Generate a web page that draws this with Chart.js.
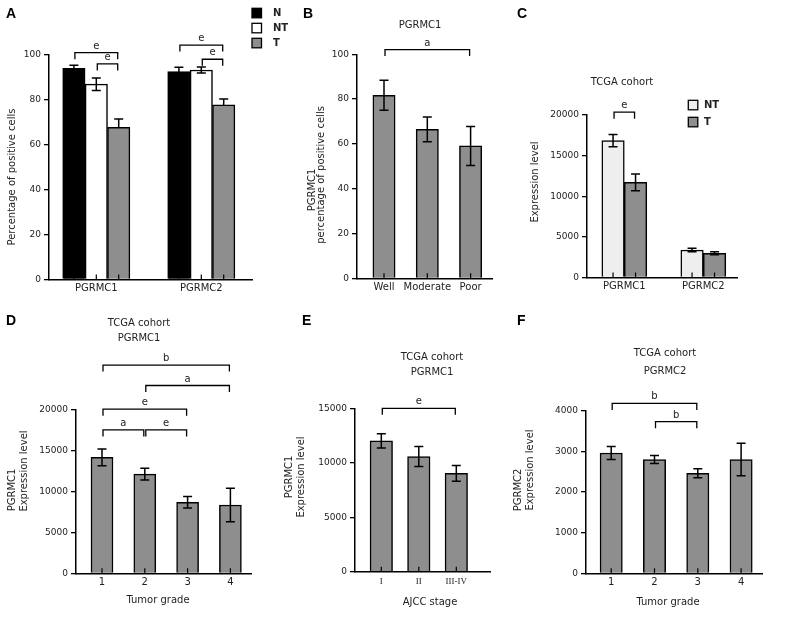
<!DOCTYPE html>
<html><head><meta charset="utf-8">
<script src="https://cdn.jsdelivr.net/npm/chart.js@4/dist/chart.umd.min.js"></script>
<style>
html,body{margin:0;padding:0;background:#fff;}
#wrap{position:relative;width:789px;height:617px;overflow:hidden;background:#fff;}
#wrap canvas{position:absolute;left:0;top:0;}
</style></head><body><div id="wrap">
<canvas id="cA" width="789" height="617"></canvas>
<canvas id="cB" width="789" height="617"></canvas>
<canvas id="cC" width="789" height="617"></canvas>
<canvas id="cD" width="789" height="617"></canvas>
<canvas id="cE" width="789" height="617"></canvas>
<canvas id="cF" width="789" height="617"></canvas>
</div>
<script>
// ---------- DATA ----------
// Panel A
const catsA = ['PGRMC1', 'PGRMC2'];
const seriesA = ['N', 'NT', 'T'];
const meanA_N = [93.9, 92.4];
const semA_N = [1.3, 1.9];
const meanA_NT = [86.8, 93.1];
const semA_NT = [2.8, 1.3];
const meanA_T = [67.6, 77.6];
const semA_T = [3.7, 2.6];
const yTicksA = [0, 20, 40, 60, 80, 100];
const sigA = [
  { from: [0, 0], to: [0, 2], level: 100.8, label: 'e' },
  { from: [0, 1], to: [0, 2], level: 95.8, label: 'e' },
  { from: [1, 0], to: [1, 2], level: 104.2, label: 'e' },
  { from: [1, 1], to: [1, 2], level: 97.9, label: 'e' }
];
// Panel B
const catsB = ['Well', 'Moderate', 'Poor'];
const meanB = [81.7, 66.5, 59.1];
const semB = [6.7, 5.5, 8.7];
const yTicksB = [0, 20, 40, 60, 80, 100];
const sigB = [{ from: [0, 0], to: [2, 0], level: 102.1, label: 'a' }];
// Panel C
const catsC = ['PGRMC1', 'PGRMC2'];
const seriesC = ['NT', 'T'];
const meanC_NT = [16850, 3390];
const semC_NT = [750, 220];
const meanC_T = [11720, 2980];
const semC_T = [1030, 190];
const yTicksC = [0, 5000, 10000, 15000, 20000];
const sigC = [{ from: [0, 0], to: [0, 1], level: 20350, label: 'e' }];
// Panel D
const catsD = ['1', '2', '3', '4'];
const meanD = [14200, 12150, 8700, 8370];
const semD = [1020, 720, 700, 2050];
const yTicksD = [0, 5000, 10000, 15000, 20000];
const sigD = [
  { from: [0, 0], to: [3, 0], level: 25500, label: 'b' },
  { from: [1, 0], to: [3, 0], level: 23000, label: 'a' },
  { from: [0, 0], to: [2, 0], level: 20100, label: 'e' },
  { from: [0, 0], to: [1, 0], level: 17560, label: 'a' },
  { from: [1, 0], to: [2, 0], level: 17560, label: 'e' }
];
// Panel E
const catsE = ['I', 'II', 'III-IV'];
const meanE = [12040, 10600, 9050];
const semE = [660, 920, 720];
const yTicksE = [0, 5000, 10000, 15000];
const sigE = [{ from: [0, 0], to: [2, 0], level: 15030, label: 'e' }];
// Panel F
const catsF = ['1', '2', '3', '4'];
const meanF = [2960, 2800, 2460, 2800];
const semF = [160, 100, 110, 400];
const yTicksF = [0, 1000, 2000, 3000, 4000];
const sigF = [
  { from: [0, 0], to: [2, 0], level: 4180, label: 'b' },
  { from: [1, 0], to: [2, 0], level: 3730, label: 'b' }
];

// ---------- STYLE ----------
const FONT = "'DejaVu Sans', Verdana, sans-serif";
const SERIF = "'Liberation Serif', 'DejaVu Serif', serif";
const LETTER = "'Liberation Sans', Arial, sans-serif";
const INK = '#222';
const GRAY = '#8e8e8e';
const LIGHT = '#eeeeee';
const font = (size, weight, fam) => (weight || 'normal') + ' ' + size + 'px ' + (fam || FONT);

const pts = (vals) => vals.map((v, i) => ({ x: i, y: v }));

const extras = {
  id: 'extras',
  afterDatasetsDraw(chart) {
    const ctx = chart.ctx, ys = chart.scales.y;
    const y0 = ys.getPixelForValue(0);
    ctx.save();
    ctx.strokeStyle = '#000';
    chart.data.datasets.forEach((ds, di) => {
      chart.getDatasetMeta(di).data.forEach((bar, i) => {
        ctx.lineWidth = 1.2;
        ctx.beginPath(); ctx.moveTo(bar.x, y0); ctx.lineTo(bar.x, y0 - 5); ctx.stroke();
        const err = ds.errorBars ? ds.errorBars[i] : null;
        if (err == null) return;
        const v = ds.data[i].y;
        const pt = ys.getPixelForValue(v + err);
        const pb = ds.upperOnly ? bar.y : ys.getPixelForValue(v - err);
        const cap = 4.5;
        ctx.lineWidth = 1.5;
        ctx.beginPath();
        ctx.moveTo(bar.x, pt); ctx.lineTo(bar.x, pb);
        ctx.moveTo(bar.x - cap, pt); ctx.lineTo(bar.x + cap, pt);
        if (!ds.upperOnly) { ctx.moveTo(bar.x - cap, pb); ctx.lineTo(bar.x + cap, pb); }
        ctx.stroke();
      });
    });
    ctx.restore();
  },
  afterDraw(chart, args, o) {
    const ctx = chart.ctx, ys = chart.scales.y;
    ctx.save();
    ctx.strokeStyle = '#000';
    const px = ref => chart.getDatasetMeta(ref[1]).data[ref[0]].x;
    (o.brackets || []).forEach(b => {
      const x1 = px(b.from) + 1, x2 = px(b.to) - 1;
      const yy = ys.getPixelForValue(b.level);
      ctx.lineWidth = 1.3;
      ctx.beginPath(); ctx.moveTo(x1, yy + 6.5); ctx.lineTo(x1, yy); ctx.lineTo(x2, yy); ctx.lineTo(x2, yy + 6.5); ctx.stroke();
      ctx.fillStyle = INK; ctx.font = font(10); ctx.textAlign = 'center'; ctx.textBaseline = 'alphabetic';
      ctx.fillText(b.label, (x1 + x2) / 2, yy - 4);
    });
    (o.texts || []).forEach(t => {
      ctx.font = t.font || font(10);
      ctx.fillStyle = t.color || INK;
      ctx.textAlign = t.align || 'center';
      ctx.textBaseline = t.baseline || 'middle';
      if (t.rot) { ctx.save(); ctx.translate(t.x, t.y); ctx.rotate(-Math.PI / 2); ctx.fillText(t.text, 0, 0); ctx.restore(); }
      else ctx.fillText(t.text, t.x, t.y);
    });
    if (o.legend) {
      const L = o.legend;
      chart.data.datasets.forEach((ds, i) => {
        const top = L.y + i * L.gap;
        ctx.fillStyle = ds.backgroundColor; ctx.fillRect(L.x, top, L.size, L.size);
        ctx.lineWidth = 1.3; ctx.strokeStyle = '#000'; ctx.strokeRect(L.x, top, L.size, L.size);
        ctx.fillStyle = INK; ctx.font = font(10, 'bold'); ctx.textAlign = 'left'; ctx.textBaseline = 'middle';
        ctx.fillText(ds.label, L.tx, top + L.size / 2 + 0.5);
      });
    }
    if (o.letter) {
      ctx.fillStyle = '#000'; ctx.font = font(14, 'bold', LETTER); ctx.textAlign = 'left'; ctx.textBaseline = 'alphabetic';
      ctx.fillText(o.letter.text, o.letter.x, o.letter.y);
    }
    ctx.restore();
  }
};

function bars(label, vals, errs, color, thick, extra) {
  return Object.assign({
    label, data: pts(vals), errorBars: errs, backgroundColor: color, borderColor: '#000',
    borderWidth: 1.5, barThickness: thick
  }, extra || {});
}

function panel(id, p) {
  const W = 789, H = 617, YW = 40, XH = 24;
  const xmin = -(p.c0 - p.l) / p.step;
  const xmax = xmin + (p.r - p.l) / p.step;
  return new Chart(document.getElementById(id), {
    type: 'bar',
    data: { datasets: p.datasets },
    options: {
      responsive: false, animation: false, devicePixelRatio: 1, events: [],
      layout: { padding: { left: p.l - YW, right: W - p.r, top: p.t, bottom: H - p.b - XH } },
      plugins: { legend: { display: false }, tooltip: { enabled: false }, extras: p.extras },
      scales: {
        x: {
          type: 'linear', offset: false, bounds: 'data', min: xmin, max: xmax, z: 1,
          afterBuildTicks: s => { s.ticks = p.cats.map((c, i) => ({ value: i })); },
          afterFit: s => { s.height = XH; },
          ticks: { autoSkip: false, maxRotation: 0, padding: p.xPad || 3, font: p.xFont || { family: FONT, size: 10 }, color: INK,
                   callback: v => p.cats[v] },
          grid: { display: false, drawTicks: false },
          border: { display: true, color: '#000', width: 1.5 }
        },
        y: {
          min: 0, max: p.yTicks[p.yTicks.length - 1],
          afterBuildTicks: s => { s.ticks = p.yTicks.map(v => ({ value: v })); },
          afterFit: s => { s.width = YW; },
          ticks: { padding: 3, font: { family: FONT, size: 9 }, color: INK, callback: v => String(v) },
          grid: { display: true, drawOnChartArea: false, drawTicks: true, tickLength: 5, color: '#000', lineWidth: 1.3 },
          border: { display: true, color: '#000', width: 1.5 }
        }
      }
    },
    plugins: [extras]
  });
}

// ---------- PANELS ----------
panel('cA', {
  l: 49, r: 252, t: 54.5, b: 279.5, c0: 96.3, step: 105, cats: catsA, yTicks: yTicksA,
  datasets: [
    bars(seriesA[0], meanA_N, semA_N, '#000000', 22.4),
    bars(seriesA[1], meanA_NT, semA_NT, '#ffffff', 22.4),
    bars(seriesA[2], meanA_T, semA_T, GRAY, 22.4, { upperOnly: true })
  ],
  extras: {
    brackets: sigA,
    letter: { text: 'A', x: 6, y: 18 },
    legend: { x: 252, y: 8.3, gap: 15, size: 9.5, tx: 273 },
    texts: [{ text: 'Percentage of positive cells', x: 12.5, y: 177, rot: true }]
  }
});

panel('cB', {
  l: 357, r: 492, t: 54.3, b: 278.3, c0: 384, step: 43.3, cats: catsB, yTicks: yTicksB,
  datasets: [bars('PGRMC1', meanB, semB, GRAY, 22.3)],
  extras: {
    brackets: sigB,
    letter: { text: 'B', x: 303, y: 18 },
    texts: [
      { text: 'PGRMC1', x: 420, y: 25 },
      { text: 'PGRMC1', x: 312.7, y: 190, rot: true },
      { text: 'percentage of positive cells', x: 321.5, y: 175, rot: true }
    ]
  }
});

panel('cC', {
  l: 587, r: 737, t: 115, b: 277.5, c0: 624.3, step: 79, cats: catsC, yTicks: yTicksC,
  datasets: [
    bars(seriesC[0], meanC_NT, semC_NT, LIGHT, 22.5),
    bars(seriesC[1], meanC_T, semC_T, GRAY, 22.5)
  ],
  extras: {
    brackets: sigC,
    letter: { text: 'C', x: 517, y: 18 },
    legend: { x: 688.3, y: 100.3, gap: 17, size: 9.5, tx: 704 },
    texts: [
      { text: 'TCGA cohort', x: 622, y: 82 },
      { text: 'Expression level', x: 535, y: 182, rot: true }
    ]
  }
});

panel('cD', {
  l: 76, r: 251, t: 410, b: 573.3, c0: 102, step: 42.8, cats: catsD, yTicks: yTicksD,
  datasets: [bars('PGRMC1', meanD, semD, GRAY, 22)],
  extras: {
    brackets: sigD,
    letter: { text: 'D', x: 6, y: 325 },
    texts: [
      { text: 'TCGA cohort', x: 139, y: 323 },
      { text: 'PGRMC1', x: 139, y: 338 },
      { text: 'PGRMC1', x: 12, y: 490, rot: true },
      { text: 'Expression level', x: 24.3, y: 471, rot: true },
      { text: 'Tumor grade', x: 158, y: 600 }
    ]
  }
});

panel('cE', {
  l: 355, r: 490, t: 408.7, b: 571.7, c0: 381.3, step: 37.5, cats: catsE, yTicks: yTicksE,
  xFont: { family: SERIF, size: 9 }, xPad: 5,
  datasets: [bars('PGRMC1', meanE, semE, GRAY, 22.5)],
  extras: {
    brackets: sigE,
    letter: { text: 'E', x: 302, y: 325 },
    texts: [
      { text: 'TCGA cohort', x: 432, y: 357 },
      { text: 'PGRMC1', x: 432, y: 372 },
      { text: 'PGRMC1', x: 289.3, y: 477, rot: true },
      { text: 'Expression level', x: 301.7, y: 477, rot: true },
      { text: 'AJCC stage', x: 430, y: 602 }
    ]
  }
});

panel('cF', {
  l: 586, r: 762, t: 410.7, b: 573.3, c0: 611.2, step: 43.3, cats: catsF, yTicks: yTicksF,
  datasets: [bars('PGRMC2', meanF, semF, GRAY, 22.3)],
  extras: {
    brackets: sigF,
    letter: { text: 'F', x: 517, y: 325 },
    texts: [
      { text: 'TCGA cohort', x: 665, y: 353 },
      { text: 'PGRMC2', x: 665, y: 371 },
      { text: 'PGRMC2', x: 518, y: 490, rot: true },
      { text: 'Expression level', x: 530, y: 470, rot: true },
      { text: 'Tumor grade', x: 668, y: 602 }
    ]
  }
});
</script>
</body></html>
